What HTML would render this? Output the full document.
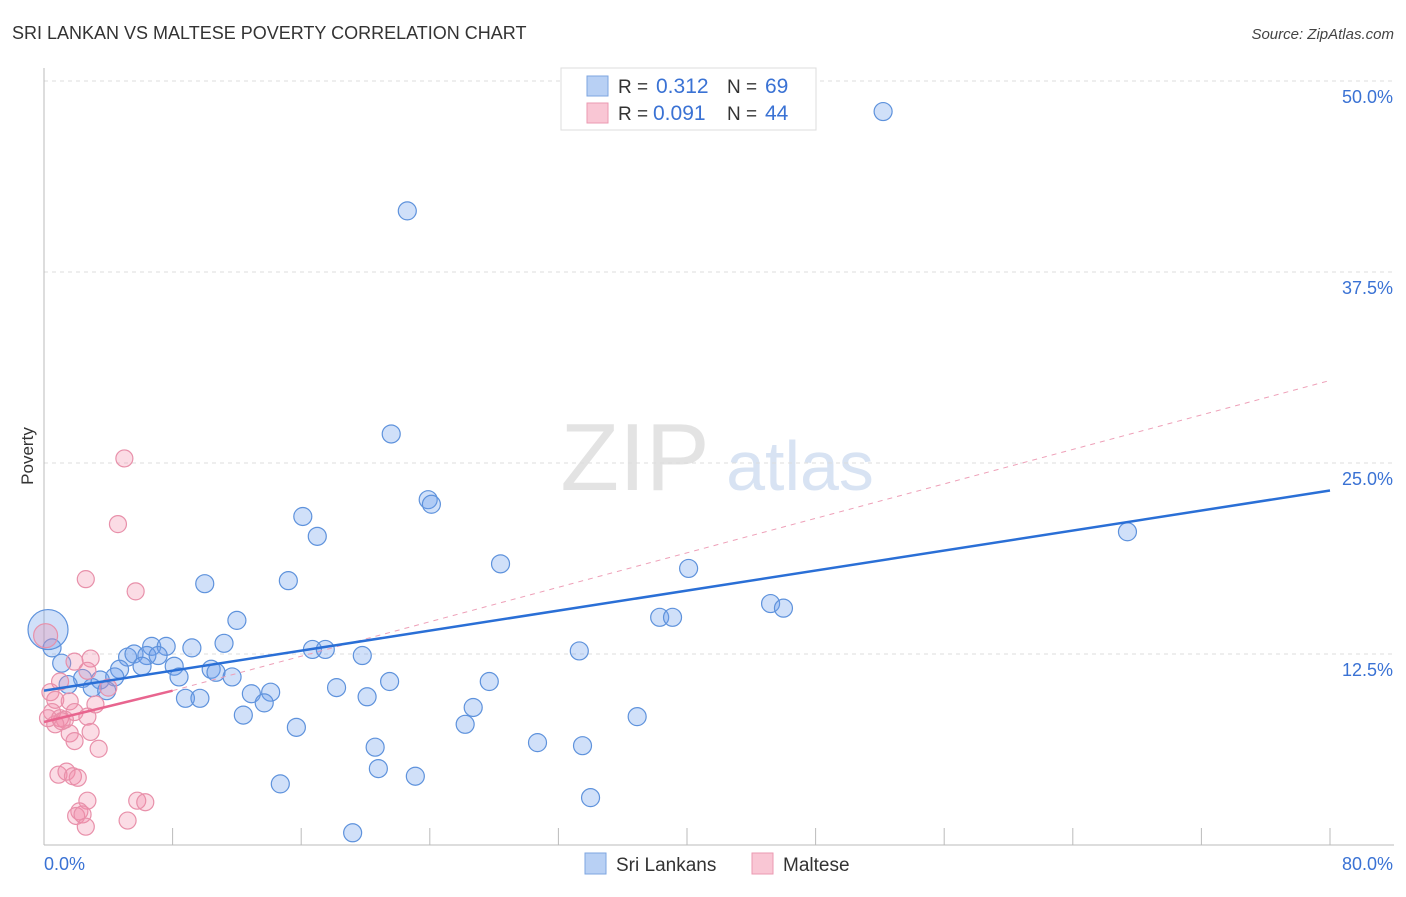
<!DOCTYPE html>
<html><head><meta charset="utf-8"><style>
body{margin:0;background:#fff;font-family:"Liberation Sans",sans-serif;}
svg text{font-family:"Liberation Sans",sans-serif;}
</style></head><body>
<svg id="chart" width="1406" height="892" xmlns="http://www.w3.org/2000/svg">
<text x="12" y="39" font-size="18" fill="#333">SRI LANKAN VS MALTESE POVERTY CORRELATION CHART</text>
<text x="1394" y="39" font-size="15" fill="#444" text-anchor="end" font-style="italic">Source: ZipAtlas.com</text>
<g>
<text x="635" y="490" font-size="96" fill="#d8d8d8" text-anchor="middle" font-family="Liberation Serif" opacity="0.7">ZIP</text>
<text x="800" y="490" font-size="70" fill="#c8d8ef" text-anchor="middle" opacity="0.7">atlas</text>
</g>
<g id="grid"></g>
<g id="axes"></g>
<g id="marks"></g>
<g id="lines"></g>
<text transform="translate(33,456) rotate(-90)" font-size="17" fill="#333" text-anchor="middle">Poverty</text>
<g>
<rect x="561" y="68" width="255" height="62" fill="#fff" stroke="#ddd"/>
<rect x="587" y="76" width="21" height="20" fill="#b8d0f4" stroke="#7ea6e0"/>
<rect x="587" y="103" width="21" height="20" fill="#f9c6d4" stroke="#eb9ab2"/>
<text x="618" y="93" font-size="19" fill="#333">R =</text><text x="656" y="93" font-size="21" fill="#3a72d4">0.312</text>
<text x="727" y="93" font-size="19" fill="#333">N =</text><text x="765" y="93" font-size="21" fill="#3a72d4">69</text>
<text x="618" y="120" font-size="19" fill="#333">R =</text><text x="653" y="120" font-size="21" fill="#3a72d4">0.091</text>
<text x="727" y="120" font-size="19" fill="#333">N =</text><text x="765" y="120" font-size="21" fill="#3a72d4">44</text>
</g>
<g>
<rect x="585" y="853" width="21" height="21" fill="#b8d0f4" stroke="#7ea6e0"/>
<text x="616" y="871" font-size="19" fill="#333">Sri Lankans</text>
<rect x="752" y="853" width="21" height="21" fill="#f9c6d4" stroke="#eb9ab2"/>
<text x="783" y="871" font-size="19" fill="#333">Maltese</text>
</g>
</svg>
<script>
const xTickLabels=["0.0%","80.0%"];
const yTicks=[12.5,25,37.5,50];
const yTickLabels=["12.5%","25.0%","37.5%","50.0%"];
const blueX=[52.2,22.6,21.6,23.9,24.1,16.1,17.0,67.4,28.4,40.1,10.0,15.2,45.2,46.0,38.3,39.1,12.0,0.5,11.2,6.7,7.6,9.2,5.2,5.6,6.4,7.1,16.7,17.5,19.8,33.3,1.1,6.1,8.1,4.7,10.4,10.7,11.7,8.4,2.4,3.5,4.4,1.5,3.0,3.9,21.5,27.7,18.2,12.9,14.1,8.8,9.7,20.1,13.7,26.7,12.4,36.9,26.2,15.7,30.7,33.5,20.6,20.8,23.1,14.7,34.0,19.2];
const blueY=[48.0,41.5,26.9,22.6,22.3,21.5,20.2,20.5,18.4,18.1,17.1,17.3,15.8,15.5,14.9,14.9,14.7,12.9,13.2,13.0,13.0,12.9,12.3,12.5,12.4,12.4,12.8,12.8,12.4,12.7,11.9,11.7,11.7,11.5,11.5,11.3,11.0,11.0,10.9,10.8,11.0,10.5,10.3,10.1,10.7,10.7,10.3,9.9,10.0,9.6,9.6,9.7,9.3,9.0,8.5,8.4,7.9,7.7,6.7,6.5,6.4,5.0,4.5,4.0,3.1,0.8];
const bigBlue=[[0.25,14.1]];
const pinkX=[5.0,4.6,2.6,5.7,1.9,2.9,2.7,1.0,4.0,0.4,0.7,1.6,3.2,0.5,1.9,1.0,1.3,2.7,0.7,1.6,2.9,1.9,3.4,0.9,1.4,1.8,2.1,2.7,5.8,6.3,2.2,2.0,2.4,2.6,5.2,1.1,0.25];
const pinkY=[25.3,21.0,17.4,16.6,12.0,12.2,11.4,10.7,10.3,10.0,9.5,9.4,9.2,8.7,8.7,8.3,8.2,8.4,7.9,7.3,7.4,6.8,6.3,4.6,4.8,4.5,4.4,2.9,2.9,2.8,2.2,1.9,2.0,1.2,1.6,8.1,8.3];
const bigPink=[[0.1,13.7]];
const blueTrend=[[0,10.1],[80,23.2]];
const pinkTrend=[[0,8.05],[8,10.1]];
const pinkDash=[[8,10.1],[80,30.4]];
const NS="http://www.w3.org/2000/svg";
const X=v=>44+v/80*1286, Y=v=>845-v/12.5*191;
function mk(tag,attrs,parent){const e=document.createElementNS(NS,tag);for(const k in attrs)e.setAttribute(k,attrs[k]);document.getElementById(parent).appendChild(e);return e;}
yTicks.forEach((t,i)=>{
 let g=mk('line',{x1:44,x2:1394,y1:Y(t),y2:Y(t),stroke:'#ddd','stroke-dasharray':'4,4'},'grid');
 
 
 let l=mk('text',{x:1393,y:Y(t)+22,'font-size':18,fill:'#3a72d4','text-anchor':'end'},'grid');l.textContent=yTickLabels[i];
 
 
});
let ax=mk('line',{x1:44,x2:44,y1:68,y2:845,stroke:'#bbb'},'axes');


let bx=mk('line',{x1:44,x2:1394,y1:845,y2:845,stroke:'#bbb'},'axes');


for(let i=1;i<=10;i++){let t=mk('line',{x1:X(i*8),x2:X(i*8),y1:828,y2:845,stroke:'#bbb'},'axes');
 
 }
[[xTickLabels[0],44,'start'],[xTickLabels[1],1393,'end']].forEach(a=>{let t=mk('text',{x:a[1],y:870,'font-size':18,fill:'#3a72d4','text-anchor':a[2]},'axes');t.textContent=a[0];
 
 });
function dot(x,y,r,col){const c=col==='b'?{fill:'rgba(110,160,235,0.32)',stroke:'#5e92dc'}:{fill:'rgba(242,140,170,0.3)',stroke:'#e890aa'};
 let e=mk('circle',{cx:X(x),cy:Y(y),r:r,fill:c.fill,stroke:c.stroke,'stroke-width':1.2},'marks');
 
 }
blueX.forEach((x,i)=>dot(x,blueY[i],9,'b'));
bigBlue.forEach(p=>dot(p[0],p[1],20,'b'));
pinkX.forEach((x,i)=>dot(x,pinkY[i],8.5,'p'));
bigPink.forEach(p=>dot(p[0],p[1],12,'p'));
function ln(p,st,w,dash,name){let e=mk('line',{x1:X(p[0][0]),y1:Y(p[0][1]),x2:X(p[1][0]),y2:Y(p[1][1]),stroke:st,'stroke-width':w},'lines');if(dash)e.setAttribute('stroke-dasharray',dash);
 
 }
ln(pinkDash,'#eea0b8',1,'5,5','maltese-trend-extension');
ln(blueTrend,'#2a6fd6',2.5,null,'sri-lankan-trend-line');
ln(pinkTrend,'#e8658f',2.5,null,'maltese-trend-line');
</script>
</body></html>
